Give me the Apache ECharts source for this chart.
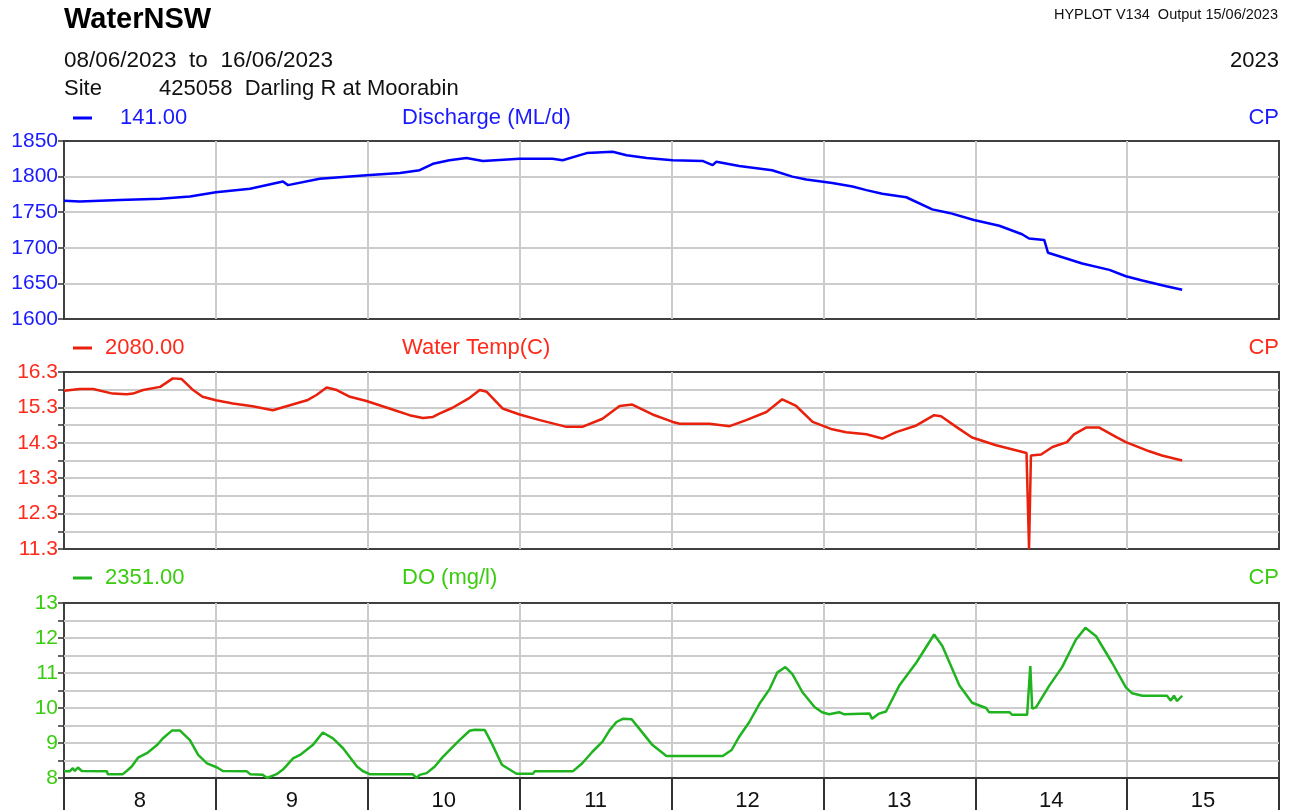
<!DOCTYPE html>
<html><head><meta charset="utf-8">
<script src="https://cdn.jsdelivr.net/npm/echarts@6/dist/echarts.min.js"></script>
<style>html,body{margin:0;padding:0;background:#fff}#c{width:1291px;height:812px}</style>
</head><body><div id="c"></div>
<script>
// ---- data (hours since 08/06/2023 00:00) ----
const dayLabels = ['8','9','10','11','12','13','14','15'];

const dischargeHours = [0,2.5,8.8,15.2,19.9,24,29.4,34.6,35.4,40.4,47.8,53.1,56.2,58.3,60.9,63.6,66.2,72,77.2,78.8,82.6,86.7,88.9,92.1,96.2,100.9,102.5,103.1,106.7,111.9,115.1,117.3,121.4,124.6,126.8,129.3,133.1,137.2,139.9,143.8,147.8,151.4,152.5,154.9,155.5,158.4,160.9,165.2,167.8,170.4,174.2,176.7];
const dischargeValues = [1766,1765,1767,1769,1772,1778,1783,1793,1788,1797,1802,1805,1809,1818,1823,1826,1822,1825,1825,1823,1833,1835,1830,1826,1823,1822,1816,1821,1815,1809,1800,1796,1791,1786,1781,1776,1771,1754,1749,1739,1731,1719,1713,1711,1693,1685,1678,1669,1660,1654,1646,1641];

const tempHours = [0,2.5,4.6,7.7,9.9,10.9,12.5,15.2,17.2,18.6,20.4,21.9,24,26.7,29.8,33,35.7,38.4,39.9,41.5,43.1,45.2,47.8,51.9,54.6,56.7,58.3,59.4,61.4,64.1,65.7,66.8,69.3,72,75.2,79.4,81.9,85.1,87.8,89.8,93,96.2,97.3,102,105.2,107.8,111,113.5,115.7,118.3,121.4,123.6,126.8,129.3,131.5,134.7,137.5,138.6,141,143.5,147.3,152.1,152.4,152.5,152.8,154.4,156.2,158.5,159.6,161.5,163.6,166.3,167.8,171.5,173.5,176.7];
const tempValues = [15.77,15.82,15.82,15.69,15.67,15.69,15.79,15.88,16.12,16.10,15.79,15.60,15.50,15.41,15.33,15.22,15.36,15.50,15.65,15.86,15.79,15.60,15.48,15.24,15.08,15.00,15.03,15.13,15.29,15.57,15.79,15.74,15.27,15.10,14.94,14.75,14.75,14.98,15.34,15.38,15.10,14.89,14.84,14.84,14.77,14.94,15.17,15.53,15.34,14.89,14.68,14.60,14.54,14.42,14.60,14.79,15.08,15.05,14.75,14.45,14.23,14.01,13.99,11.3,13.94,13.97,14.18,14.32,14.54,14.73,14.73,14.46,14.32,14.06,13.94,13.80];

const doHours = [0,0.9,1.4,1.7,2.2,2.8,6.8,6.9,9.3,9.9,10.7,11.7,13.1,14.7,15.6,17.1,18.3,19.9,21.2,22.6,24.2,25.1,28.9,29.4,31.4,32.1,33.6,34.6,36.2,37.3,39.3,40.9,42.5,44.1,46.3,47.2,48.3,55.1,55.7,56.2,57.3,58.6,59.8,61.4,62.5,64.1,64.9,66.5,67.6,69.2,71.5,74.1,74.4,80.4,81.9,83.5,85.1,86.2,87.3,88.3,89.7,90.9,93,95.2,104.1,105.5,106.7,108.3,109.9,111.5,112.7,114,115.1,116.7,118.6,119.8,120.9,122.5,123.3,127.3,127.7,128.8,129.9,132,134.7,137.5,138.8,141.5,143.5,145.7,146.2,149.4,149.8,152.2,152.7,153,153.6,155.7,157.7,159.9,161.4,163.1,165.6,167.8,168.8,170.4,174.3,174.9,175.4,175.9,176.7];
const doValues = [8.19,8.19,8.28,8.20,8.30,8.20,8.19,8.11,8.11,8.20,8.33,8.58,8.71,8.94,9.13,9.36,9.36,9.08,8.66,8.42,8.30,8.20,8.19,8.11,8.09,8.00,8.11,8.24,8.56,8.66,8.94,9.30,9.13,8.85,8.33,8.20,8.11,8.11,8.00,8.09,8.14,8.33,8.59,8.88,9.08,9.35,9.38,9.37,8.99,8.38,8.12,8.12,8.19,8.19,8.42,8.75,9.04,9.36,9.60,9.69,9.68,9.41,8.94,8.63,8.63,8.80,9.18,9.60,10.12,10.54,11.01,11.17,10.97,10.45,10.03,9.88,9.82,9.88,9.82,9.84,9.69,9.84,9.90,10.64,11.30,12.10,11.77,10.64,10.15,10.00,9.88,9.88,9.81,9.81,11.20,9.98,10.02,10.64,11.16,11.95,12.29,12.05,11.30,10.59,10.42,10.35,10.35,10.21,10.35,10.20,10.35];

const dischargeTicks = [1600,1650,1700,1750,1800,1850];
const dischargeLabels = [1600,1650,1700,1750,1800,1850];
const tempTicks = [11.3,11.8,12.3,12.8,13.3,13.8,14.3,14.8,15.3,15.8,16.3];
const tempLabels = [11.3,12.3,13.3,14.3,15.3,16.3];
const doTicks = [8,8.5,9,9.5,10,10.5,11,11.5,12,12.5,13];
const doLabels = [8,9,10,11,12,13];

// ---- styling ----
const FONT = "'Liberation Sans', Arial, sans-serif";
const BLUE = '#0000ff', BLUE_T = '#1a1aff';
const RED = '#e8200c', RED_T = '#ff2a1a';
const GREEN = '#1fb41f', GREEN_T = '#3acc10';
const GRIDC = '#cccccc';

const grids = [
  {left:64, top:141, width:1215, height:178},
  {left:64, top:372, width:1215, height:177},
  {left:64, top:603, width:1215, height:177}
].map(g => Object.assign(g, {show:true, borderColor:'#404040', borderWidth:2, containLabel:false}));

function xVal(i){
  return {gridIndex:i, type:'value', min:0, max:192, interval:24,
    axisLine:{show:false}, axisTick:{show:false}, axisLabel:{show:false},
    splitLine:{show:true, showMinLine:false, showMaxLine:false, lineStyle:{color:GRIDC, width:2}}};
}
function yVal(i, min, max, ticks, labels, color, dec){
  return {gridIndex:i, type:'value', min:min, max:max,
    axisLine:{show:false, onZero:false},
    axisTick:{show:true, length:6, customValues:ticks, lineStyle:{color:'#333', width:1.5}},
    axisLabel:{show:true, customValues:labels, fontSize:21, fontFamily:FONT, color:color, margin:6,
      formatter: v => dec ? Number(v).toFixed(dec) : String(Math.round(v))},
    splitLine:{show:true, showMinLine:false, showMaxLine:false, lineStyle:{color:GRIDC, width:2}}};
}
function pairs(h, v){ return h.map((x,i)=>[x, v[i]]); }

function txt(x, y, text, size, color, align, weight){
  return {type:'text', x:x, y:y, silent:true, z:10,
    style:{text:text, fontSize:size, fontFamily:FONT, fontWeight:weight||'normal', fill:color,
      align:align||'left', verticalAlign:'middle'}};
}
function dash(y, color){
  return {type:'line', silent:true, shape:{x1:73, y1:y, x2:92, y2:y}, style:{stroke:color, lineWidth:3}};
}

const option = {
  animation:false,
  backgroundColor:'#ffffff',
  grid: grids,
  xAxis: [xVal(0), xVal(1), xVal(2),
    {gridIndex:2, type:'category', data:dayLabels, position:'bottom', boundaryGap:true,
     axisLine:{show:true, onZero:false, lineStyle:{color:'#333', width:2}},
     axisTick:{show:true, interval:0, length:32, lineStyle:{color:'#333', width:2}},
     axisLabel:{show:true, interval:0, fontSize:22, fontFamily:FONT, color:'#111', margin:12},
     splitLine:{show:false}}
  ],
  yAxis: [
    yVal(0, 1600, 1850, dischargeTicks, dischargeLabels, BLUE_T, 0),
    yVal(1, 11.3, 16.3, tempTicks, tempLabels, RED_T, 1),
    yVal(2, 8, 13, doTicks, doLabels, GREEN_T, 0)
  ],
  series: [
    {type:'line', xAxisIndex:0, yAxisIndex:0, data:pairs(dischargeHours, dischargeValues), showSymbol:false, lineStyle:{color:BLUE, width:2.5}, itemStyle:{color:BLUE}},
    {type:'line', xAxisIndex:1, yAxisIndex:1, data:pairs(tempHours, tempValues), showSymbol:false, lineStyle:{color:RED, width:2.5}, itemStyle:{color:RED}},
    {type:'line', xAxisIndex:2, yAxisIndex:2, data:pairs(doHours, doValues), showSymbol:false, lineStyle:{color:GREEN, width:2.5}, itemStyle:{color:GREEN}}
  ],
  graphic: [
    txt(64, 20, 'WaterNSW', 29, '#000', 'left', 'bold'),
    txt(1278, 15, 'HYPLOT V134  Output 15/06/2023', 14.5, '#111', 'right'),
    txt(64, 61, '08/06/2023  to  16/06/2023', 22.5, '#111'),
    txt(1279, 61, '2023', 22, '#111', 'right'),
    txt(64, 89, 'Site', 22, '#111'),
    txt(159, 89, '425058  Darling R at Moorabin', 22, '#111'),
    dash(118, BLUE),
    txt(120, 118, '141.00', 22, BLUE_T),
    txt(402, 118, 'Discharge (ML/d)', 22, BLUE_T),
    txt(1279, 118, 'CP', 22, BLUE_T, 'right'),
    dash(348, RED),
    txt(105, 348, '2080.00', 22, RED_T),
    txt(402, 348, 'Water Temp(C)', 22, RED_T),
    txt(1279, 348, 'CP', 22, RED_T, 'right'),
    dash(578, GREEN),
    txt(105, 578, '2351.00', 22, GREEN_T),
    txt(402, 578, 'DO (mg/l)', 22, GREEN_T),
    txt(1279, 578, 'CP', 22, GREEN_T, 'right')
  ]
};
const chart = echarts.init(document.getElementById('c'), null, {renderer:'canvas'});
chart.setOption(option);
</script></body></html>
